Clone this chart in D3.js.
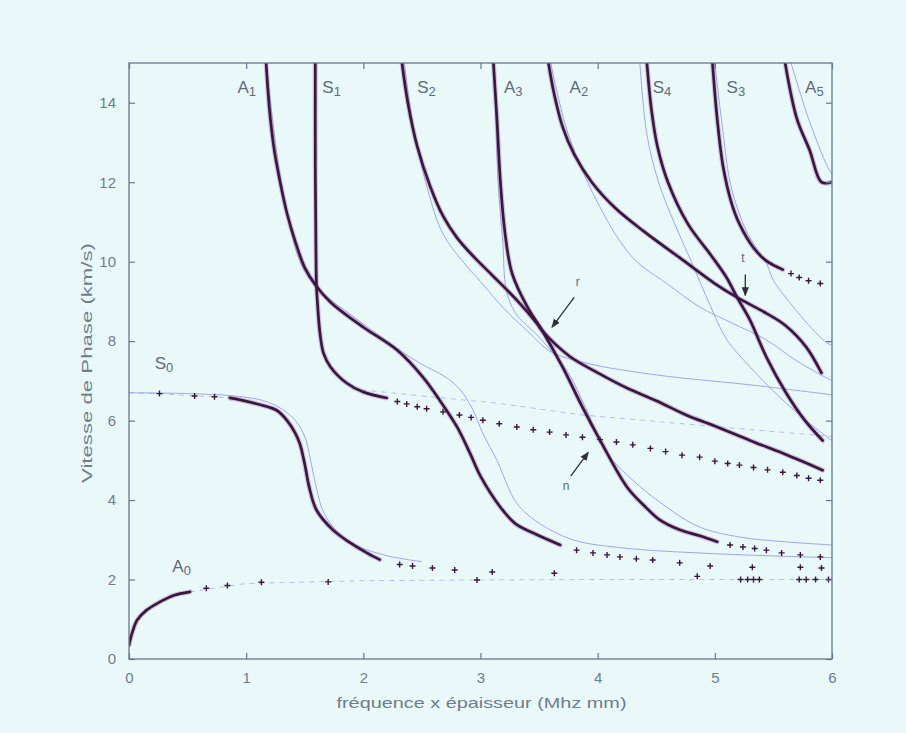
<!DOCTYPE html>
<html>
<head>
<meta charset="utf-8">
<script src="https://cdn.jsdelivr.net/npm/d3@7"></script>
<style>
  html, body { margin: 0; padding: 0; background: #e9f9fa; }
  svg { display: block; }
  text { font-family: "Liberation Sans", Arial, sans-serif; }
</style>
</head>
<body>
<svg id="chart" width="906" height="733"></svg>
<script>
// ---------- tick values ----------
const xTicks = [0, 1, 2, 3, 4, 5, 6];
const yTicks = [0, 2, 4, 6, 8, 10, 12, 14];
const xTitle = "fréquence x épaisseur (Mhz mm)";
const yTitle = "Vitesse de Phase (km/s)";

// ---------- thick (measured) curves: [f*e, Vphase] ----------
const A0 = [[0,0.35],[0.026,0.65],[0.07,0.98],[0.15,1.23],[0.26,1.43],[0.38,1.6],[0.52,1.69]];
const A0_marks = [[0.66,1.78],[0.84,1.85],[1.13,1.93],[1.70,1.94],[2.97,1.99],[4.85,2.08],[5.22,2.0],[5.28,2.0],[5.33,2.0],[5.38,2.0],[5.72,2.0],[5.78,2.0],[5.86,2.0],[5.97,2.0]];
const S0_lead = [[0,6.7],[0.26,6.68],[0.56,6.62],[0.73,6.6],[0.86,6.57]];
const S0 = [[0.86,6.57],[0.95,6.52],[1.12,6.4],[1.26,6.26],[1.35,6.0],[1.42,5.68],[1.46,5.4],[1.5,4.9],[1.54,4.3],[1.6,3.75],[1.74,3.25],[1.89,2.92],[2.03,2.67],[2.14,2.5]];
const S0_marks = [[0.26,6.68],[0.56,6.62],[0.73,6.6],[2.31,2.38],[2.42,2.34],[2.59,2.29],[2.78,2.24],[3.1,2.19],[3.63,2.16]];
const A1 = [[1.17,15],[1.2,13.8],[1.24,12.8],[1.29,12],[1.35,11.2],[1.42,10.5],[1.5,9.85],[1.59,9.42],[1.72,8.98],[2.0,8.35],[2.29,7.77],[2.51,7.09],[2.65,6.52],[2.8,5.84],[2.91,5.18],[3.0,4.6],[3.17,3.82],[3.3,3.4],[3.45,3.17],[3.68,2.87]];
const A1_marks = [[3.82,2.74],[3.96,2.67],[4.08,2.62],[4.19,2.57],[4.33,2.52],[4.47,2.49],[4.7,2.42],[4.96,2.34],[5.32,2.31],[5.73,2.31],[5.91,2.29]];
const S1 = [[1.59,15],[1.59,12.5],[1.595,10.5],[1.6,9.4],[1.61,8.9],[1.63,8.2],[1.66,7.7],[1.72,7.35],[1.86,6.94],[2.0,6.72],[2.2,6.57]];
const S1_marks = [[2.29,6.48],[2.37,6.42],[2.46,6.35],[2.54,6.3],[2.68,6.22],[2.82,6.14],[2.92,6.08],[3.02,6.01],[3.16,5.92],[3.31,5.84],[3.45,5.77],[3.59,5.71],[3.73,5.64],[3.87,5.58],[4.02,5.52],[4.16,5.46],[4.3,5.39],[4.45,5.3],[4.58,5.22],[4.72,5.13],[4.87,5.08],[5.0,4.98],[5.11,4.92],[5.21,4.88],[5.33,4.82],[5.45,4.76],[5.58,4.7],[5.7,4.62],[5.8,4.55],[5.9,4.5]];
const S2 = [[2.33,15],[2.38,14],[2.46,12.9],[2.57,11.9],[2.68,11.15],[2.8,10.6],[2.95,10.1],[3.1,9.66],[3.31,9.03],[3.48,8.45],[3.53,8.25],[3.76,7.62],[3.99,7.22],[4.25,6.82],[4.5,6.5],[4.75,6.15],[5.02,5.84],[5.3,5.5],[5.58,5.18],[5.75,4.97],[5.92,4.75]];
const A3 = [[3.11,15],[3.14,13.6],[3.17,12],[3.21,10.7],[3.27,9.7],[3.4,8.86],[3.53,8.25],[3.7,7.35],[3.87,6.34],[4.02,5.51],[4.25,4.33],[4.4,3.85],[4.53,3.5],[4.7,3.25],[4.87,3.1],[5.02,2.95]];
const A3_marks = [[5.13,2.87],[5.24,2.82],[5.34,2.78],[5.44,2.74],[5.57,2.67],[5.73,2.62],[5.9,2.57]];
const A2 = [[3.58,15],[3.63,14.2],[3.7,13.4],[3.8,12.7],[3.95,12.0],[4.15,11.35],[4.4,10.75],[4.7,10.1],[5.0,9.45],[5.19,9.1],[5.44,8.7],[5.6,8.4],[5.78,7.85],[5.91,7.2]];
const S4 = [[4.42,15],[4.46,13.8],[4.51,12.9],[4.6,12.0],[4.77,10.95],[4.97,10.15],[5.1,9.6],[5.19,9.1],[5.3,8.53],[5.44,7.6],[5.61,6.69],[5.77,6.0],[5.92,5.5]];
const S3 = [[4.98,15],[5.02,13.6],[5.07,12.4],[5.14,11.5],[5.21,10.95],[5.33,10.35],[5.44,10.02],[5.58,9.8]];
const S3_marks = [[5.65,9.7],[5.72,9.6],[5.8,9.52],[5.9,9.45]];
const A5 = [[5.6,15],[5.7,13.6],[5.81,12.8],[5.91,12.0],[6.0,12.0]];

// ---------- thin (computed) curves ----------
const S0_thin = [[0,6.7],[0.5,6.68],[0.9,6.62],[1.15,6.5],[1.3,6.3],[1.42,6.0],[1.5,5.6],[1.55,5.0],[1.6,4.3],[1.66,3.7],[1.78,3.2],[1.95,2.85],[2.2,2.6],[2.5,2.45]];
const A1_thin = [[1.17,15],[1.3,12],[1.46,10],[1.6,9.35],[1.9,8.65],[2.2,8.0],[2.48,7.45],[2.7,7.1],[2.82,6.8],[2.93,6.3],[3.02,5.68],[3.14,5.0],[3.31,3.92],[3.5,3.42],[3.79,3.0],[4.2,2.8],[5.0,2.65],[6.0,2.55]];
const S2_thin = [[2.35,15],[2.42,13.5],[2.55,11.8],[2.68,10.7],[2.85,10.0],[3.0,9.5],[3.19,8.85],[3.42,8.2],[3.59,7.75],[3.9,7.45],[4.5,7.15],[5.3,6.9],[6.0,6.65]];
const A3_thin = [[3.12,15],[3.15,12],[3.19,10.5],[3.22,9.3],[3.3,8.7],[3.5,8.1],[3.75,7.2],[3.9,6.3],[4.08,5.18],[4.3,4.5],[4.59,3.82],[4.87,3.32],[5.21,3.07],[5.6,2.95],[6.0,2.87]];
const A2_thin = [[3.6,15],[3.75,13.2],[4.02,11.37],[4.3,10.1],[4.59,9.45],[4.87,8.86],[5.15,8.45],[5.44,8.03],[5.7,7.5],[6.0,7.0]];
const S4_thin = [[4.36,15],[4.42,13.2],[4.52,12.0],[4.65,11.0],[4.8,10.0],[4.96,8.9],[5.1,8.05],[5.3,7.35],[5.55,6.6],[5.8,5.95],[6.0,5.5]];
const S3_thin = [[5.0,15],[5.06,13.5],[5.13,12.0],[5.21,11.2],[5.3,10.6],[5.44,9.96],[5.5,9.53],[5.67,8.86],[5.84,8.28],[5.96,7.95],[6.0,7.9]];
const A5_thin = [[5.65,15],[5.8,13.6],[5.96,12.4],[6.0,12.2]];

// ---------- dashed guide lines ----------
const A0_dash = [[0.52,1.69],[1.0,1.9],[2.0,1.97],[3.0,1.99],[4.0,2.0],[5.0,2.0],[6.0,2.0]];
const S1_dash = [[1.9,6.8],[2.5,6.62],[3.14,6.44],[3.87,6.14],[5.0,5.85],[6.0,5.6]];

// ---------- mode labels: [name, subscript, f*e, V] ----------
const modeLabels = [
  ["A","1",0.925,14.25],["S","1",1.65,14.25],["S","2",2.46,14.25],["A","3",3.2,14.25],
  ["A","2",3.76,14.25],["S","4",4.47,14.25],["S","3",5.1,14.25],["A","5",5.77,14.25],
  ["S","0",0.22,7.3],["A","0",0.37,2.19]
];
// ---------- annotations: [text, textX, textY, arrow from, arrow to] ----------
const notes = [
  ["r", 3.83, 9.4, [3.8,9.1], [3.61,8.35]],
  ["n", 3.73, 4.25, [3.77,4.6], [3.92,5.2]],
  ["t", 5.24, 10.0, [5.26,9.68], [5.26,9.15]]
];

// ---------- drawing ----------
const W = 906, H = 733;
const x = d3.scaleLinear().domain([0, 6]).range([129, 832]);
const y = d3.scaleLinear().domain([0, 15]).range([659, 63]);
const svg = d3.select("#chart");
svg.append("rect").attr("width", W).attr("height", H).attr("fill", "#e9f9fa");

svg.append("clipPath").attr("id", "clip").append("rect")
  .attr("x", x(0)).attr("y", y(15)).attr("width", x(6) - x(0)).attr("height", y(0) - y(15));

const plot = svg.append("g").attr("clip-path", "url(#clip)");
const line = d3.line().x(d => x(d[0])).y(d => y(d[1])).curve(d3.curveCatmullRom.alpha(0.5));
const straight = d3.line().x(d => x(d[0])).y(d => y(d[1]));

// dashed guides
[A0_dash, S1_dash, S0_lead].forEach(d => {
  plot.append("path").attr("d", straight(d)).attr("fill", "none")
    .attr("stroke", "#a9aee6").attr("stroke-width", 1).attr("stroke-dasharray", "5,5").attr("opacity", 0.8);
});

// thin curves
[S0_thin, A1_thin, S2_thin, A3_thin, A2_thin, S4_thin, S3_thin, A5_thin].forEach(d => {
  plot.append("path").attr("d", line(d)).attr("fill", "none")
    .attr("stroke", "#8f92e0").attr("stroke-width", 1).attr("opacity", 0.8);
});

// thick curves
const thick = [A0, S0, A1, S1, S2, A3, A2, S4, S3, A5];
thick.forEach(d => {
  plot.append("path").attr("d", line(d)).attr("fill", "none")
    .attr("stroke", "#a05aae").attr("stroke-width", 5).attr("opacity", 0.35)
    .attr("stroke-linecap", "round");
});
thick.forEach(d => {
  plot.append("path").attr("d", line(d)).attr("fill", "none")
    .attr("stroke", "#3a173c").attr("stroke-width", 2.7).attr("stroke-linecap", "round");
});

// + markers
const marks = [].concat(A0_marks, S0_marks, A1_marks, S1_marks, A3_marks, S3_marks);
plot.selectAll("path.mk").data(marks).enter().append("path").attr("class", "mk")
  .attr("d", d => `M${x(d[0]) - 3},${y(d[1])}h6M${x(d[0])},${y(d[1]) - 3}v6`)
  .attr("stroke", "#3a173c").attr("stroke-width", 1.4).attr("fill", "none");

// axes box
svg.append("rect").attr("x", x(0)).attr("y", y(15)).attr("width", x(6) - x(0)).attr("height", y(0) - y(15))
  .attr("fill", "none").attr("stroke", "#65788a").attr("stroke-width", 1.3);

function styleAxis(g) {
  g.select(".domain").remove();
  g.selectAll(".tick line").attr("stroke", "#65788a").attr("stroke-width", 1.2);
  g.selectAll(".tick text").attr("fill", "#6f7c8c").attr("font-size", 15)
    .attr("font-family", "Liberation Sans, Arial, sans-serif");
}
svg.append("g").attr("transform", `translate(0,${y(0)})`)
  .call(d3.axisBottom(x).tickValues(xTicks).tickFormat(d3.format("d")).tickSize(-6).tickPadding(13)).call(styleAxis);
svg.append("g").attr("transform", `translate(0,${y(15)})`)
  .call(d3.axisTop(x).tickValues(xTicks).tickFormat("").tickSize(-6)).call(styleAxis);
svg.append("g").attr("transform", `translate(${x(0)},0)`)
  .call(d3.axisLeft(y).tickValues(yTicks).tickFormat(d3.format("d")).tickSize(-6).tickPadding(13)).call(styleAxis);
svg.append("g").attr("transform", `translate(${x(6)},0)`)
  .call(d3.axisRight(y).tickValues(yTicks).tickFormat("").tickSize(-6)).call(styleAxis);

// axis titles
svg.append("text").attr("x", (x(0) + x(6)) / 2 + 1).attr("y", 708).attr("text-anchor", "middle")
  .attr("font-size", 15).attr("fill", "#6f7c8c")
  .attr("textLength", 290).attr("lengthAdjust", "spacingAndGlyphs").text(xTitle);
svg.append("text").attr("transform", `translate(92,${363}) rotate(-90)`).attr("text-anchor", "middle")
  .attr("font-size", 14).attr("fill", "#6f7c8c")
  .attr("textLength", 240).attr("lengthAdjust", "spacingAndGlyphs").text(yTitle);

// mode labels
modeLabels.forEach(([m, s, fx, fv]) => {
  const t = svg.append("text").attr("x", x(fx)).attr("y", y(fv)).attr("fill", "#5f6a7a").attr("font-size", 17);
  t.append("tspan").text(m);
  t.append("tspan").attr("font-size", 13).attr("dy", 3).text(s);
});

// annotations with arrows
const defs = svg.append("defs");
defs.append("marker").attr("id", "ah").attr("viewBox", "0 0 10 10").attr("refX", 9).attr("refY", 5)
  .attr("markerWidth", 7).attr("markerHeight", 7).attr("orient", "auto")
  .append("path").attr("d", "M0,1L10,5L0,9Z").attr("fill", "#2e2f3a");
notes.forEach(([t, tx, ty, a, b]) => {
  svg.append("text").attr("x", x(tx)).attr("y", y(ty)).attr("text-anchor", "middle")
    .attr("font-size", 12).attr("fill", "#5f6a7a").text(t);
  svg.append("line").attr("x1", x(a[0])).attr("y1", y(a[1])).attr("x2", x(b[0])).attr("y2", y(b[1]))
    .attr("stroke", "#2e2f3a").attr("stroke-width", 1.3).attr("marker-end", "url(#ah)");
});
</script>
</body>
</html>
